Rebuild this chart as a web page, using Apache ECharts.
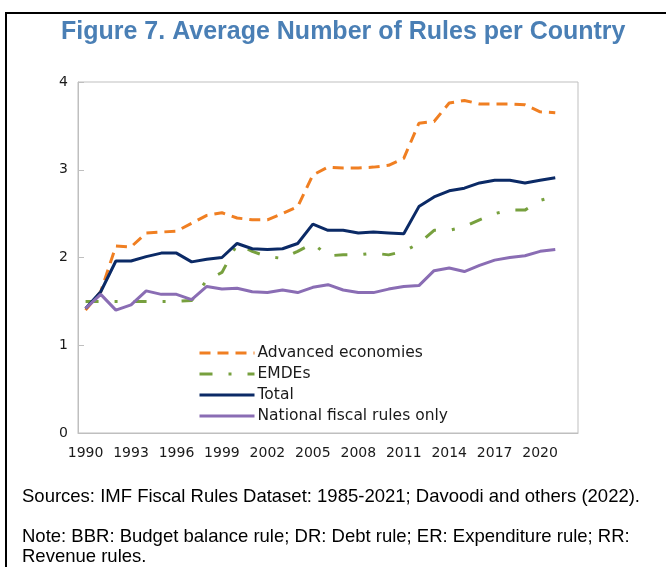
<!DOCTYPE html>
<html>
<head>
<meta charset="utf-8">
<script src="https://cdn.jsdelivr.net/npm/echarts@6/dist/echarts.min.js"></script>
<style>
html,body{margin:0;padding:0;background:#fff;}
#c{width:666px;height:567px;}
</style>
</head>
<body>
<div id="c"></div>
<script>
const years = ['1990','1991','1992','1993','1994','1995','1996','1997','1998','1999','2000','2001','2002','2003','2004','2005','2006','2007','2008','2009','2010','2011','2012','2013','2014','2015','2016','2017','2018','2019','2020','2021','2022'];
const advanced = [1.40,1.61,2.13,2.12,2.28,2.29,2.30,2.39,2.48,2.51,2.45,2.43,2.43,2.50,2.58,2.94,3.03,3.02,3.02,3.03,3.05,3.13,3.53,3.55,3.76,3.79,3.75,3.75,3.75,3.74,3.66,3.65];
const emdes = [1.50,1.50,1.50,1.50,1.50,1.50,1.50,1.51,1.74,1.83,2.15,2.07,2.01,1.99,2.07,2.16,2.02,2.03,2.03,2.05,2.03,2.07,2.16,2.31,2.31,2.35,2.43,2.50,2.54,2.54,2.65,2.70];
const total = [1.42,1.61,1.96,1.96,2.01,2.05,2.05,1.95,1.98,2.00,2.16,2.10,2.09,2.10,2.16,2.38,2.31,2.31,2.28,2.29,2.28,2.27,2.58,2.69,2.76,2.79,2.85,2.88,2.88,2.85,2.88,2.91];
const national = [1.42,1.58,1.40,1.46,1.62,1.58,1.58,1.52,1.67,1.64,1.65,1.61,1.60,1.63,1.60,1.66,1.69,1.63,1.60,1.60,1.64,1.67,1.68,1.85,1.88,1.84,1.91,1.97,2.00,2.02,2.07,2.09];
const yTicks = [0,1,2,3,4];
const titleText = 'Figure 7. Average Number of Rules per Country';
const sourceText = 'Sources: IMF Fiscal Rules Dataset: 1985-2021; Davoodi and others (2022).';
const noteLines = ['Note: BBR: Budget balance rule; DR: Debt rule; ER: Expenditure rule; RR:', 'Revenue rules.'];

const chart = echarts.init(document.getElementById('c'));
const lblFont = '"DejaVu Sans", sans-serif';
function mk(name, data, color, type){
  return {name, type:'line', data, symbol:'none', smooth:false,
    lineStyle:{color, width:3, type}, itemStyle:{color}, z: 3};
}
chart.setOption({
  animation:false,
  title:{text:titleText, left:56, top:15,
    textStyle:{fontFamily:'"Liberation Sans", Arial, sans-serif', fontWeight:'bold', fontSize:25, color:'#4a7fb5'}},
  grid:{left:78, right:88, top:82, bottom:134, show:true, borderColor:'#bfbfbf', borderWidth:1},
  legend:{orient:'vertical', left:193, top:340, itemWidth:55, itemHeight:14, itemGap:5,
    itemStyle:{opacity:0},
    lineStyle:{width:3},
    textStyle:{fontFamily:lblFont, fontSize:15.5, color:'#1a1a1a', padding:[0,0,0,-2]},
    data:['Advanced economies','EMDEs','Total','National fiscal rules only']},
  xAxis:{type:'category', data:years, boundaryGap:true,
    axisLine:{lineStyle:{color:'#bfbfbf', width:1}},
    axisTick:{inside:true, length:5, interval:3, lineStyle:{color:'#bfbfbf'}},
    axisLabel:{interval:2, margin:13, fontFamily:lblFont, fontSize:14, color:'#1a1a1a'}},
  yAxis:{type:'value', min:yTicks[0], max:yTicks[yTicks.length-1], interval:1,
    splitLine:{show:false},
    axisLine:{show:true, lineStyle:{color:'#bfbfbf'}},
    axisTick:{show:true, inside:true, length:6, lineStyle:{color:'#bfbfbf'}},
    axisLabel:{margin:10, fontFamily:lblFont, fontSize:14, color:'#1a1a1a'}},
  series:[
    mk('Advanced economies', advanced, '#f07f22', [11,7]),
    mk('EMDEs', emdes, '#77a03e', [13,16,3,16]),
    mk('Total', total, '#0b2a66', 'solid'),
    mk('National fiscal rules only', national, '#8a6db4', 'solid')
  ],
  graphic:[
    {type:'line', shape:{x1:6, y1:13, x2:666, y2:13}, style:{stroke:'#000', lineWidth:2}},
    {type:'line', shape:{x1:6, y1:12, x2:6, y2:567}, style:{stroke:'#000', lineWidth:2}},
    {type:'text', left:22, top:487, style:{text:sourceText, font:'18.5px "Liberation Sans", Arial, sans-serif', fill:'#000'}},
    {type:'text', left:22, top:527, style:{text:noteLines.join('\n'), font:'18.5px "Liberation Sans", Arial, sans-serif', fill:'#000', lineHeight:20}}
  ]
});
</script>
</body>
</html>
